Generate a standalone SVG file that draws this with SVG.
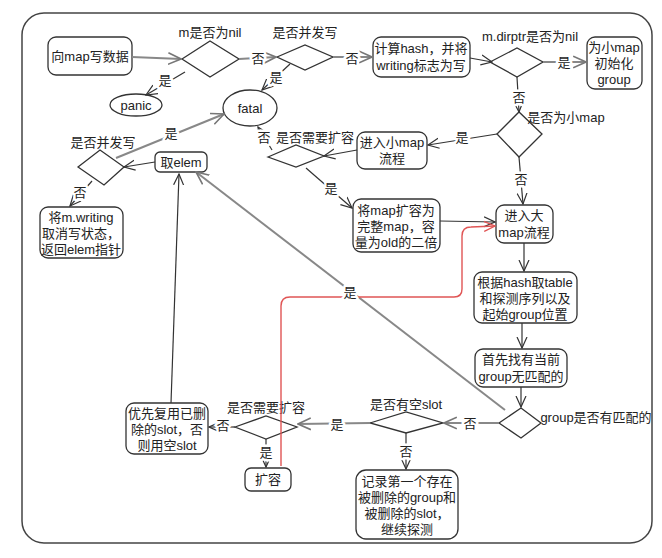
<svg xmlns="http://www.w3.org/2000/svg" width="662" height="558" viewBox="0 0 662 558">
<defs>
<style>
.n{fill:#fff;stroke:#333;stroke-width:1.3}
.t{font-family:"Liberation Sans","Noto Sans CJK SC",sans-serif;font-size:13px;fill:#222;text-anchor:middle}
.h{paint-order:stroke;stroke:#fff;stroke-width:5px;stroke-linejoin:round}
.l{fill:none;stroke:#333;stroke-width:1.2}
.g{fill:none;stroke:#888;stroke-width:2}
.r{fill:none;stroke:#e05555;stroke-width:1.4}
</style>
<marker id="a" viewBox="0 0 12 12" refX="11" refY="6" markerWidth="12" markerHeight="12" markerUnits="userSpaceOnUse" orient="auto">
<path d="M0,1 L11,6 L0,11" fill="none" stroke="#333" stroke-width="1.2"/>
</marker>
<marker id="ag" viewBox="0 0 12 12" refX="11" refY="6" markerWidth="14" markerHeight="14" markerUnits="userSpaceOnUse" orient="auto">
<path d="M0,1 L11,6 L0,11" fill="none" stroke="#777" stroke-width="1.4"/>
</marker>
<marker id="ar" viewBox="0 0 12 12" refX="11" refY="6" markerWidth="12" markerHeight="12" markerUnits="userSpaceOnUse" orient="auto">
<path d="M0,1 L11,6 L0,11" fill="none" stroke="#e05555" stroke-width="1.3"/>
</marker>
</defs>
<rect x="0" y="0" width="662" height="558" fill="#fff"/>
<rect x="22" y="13" width="630" height="530" rx="22" fill="none" stroke="#444" stroke-width="1.5"/>

<g id="n1"><rect class="n" x="48" y="37" width="84" height="38" rx="8"/><text class="t" x="90" y="61">向map写数据</text></g>
<g id="n2"><polygon class="n" points="182,59 210,41 239,59 210,77"/><text class="t" x="210" y="37">m是否为nil</text></g>
<g id="n3"><ellipse class="n" cx="136" cy="105" rx="26" ry="11"/><text class="t" x="136" y="110">panic</text></g>
<g id="n4"><ellipse class="n" cx="250" cy="108" rx="27" ry="18"/><text class="t" x="250" y="113">fatal</text></g>
<g id="n5"><polygon class="n" points="277,57 305,45 333,57 305,70"/><text class="t" x="305" y="37">是否并发写</text></g>
<g id="n6"><rect class="n" x="373" y="37" width="97" height="40" rx="8"/><text class="t" x="421" y="53">计算hash，并将</text><text class="t" x="421" y="70">writing标志为写</text></g>
<g id="n7"><polygon class="n" points="490,62 517,48 543,62 517,77"/><text class="t" x="530" y="41">m.dirptr是否为nil</text></g>
<g id="n8"><rect class="n" x="587" y="37" width="55" height="52" rx="8"/><text class="t" x="614" y="52">为小map</text><text class="t" x="614" y="68">初始化</text><text class="t" x="614" y="84">group</text></g>
<g id="n9"><polygon class="n" points="497,134 519,112 542,134 519,157"/><text class="t" x="566" y="122">是否为小map</text></g>
<g id="n10"><rect class="n" x="357" y="132" width="70" height="37" rx="8"/><text class="t" x="392" y="147">进入小map</text><text class="t" x="392" y="163">流程</text></g>
<g id="n11"><polygon class="n" points="268,157 296,145 324,156 296,167"/><text class="t" x="315" y="142">是否需要扩容</text></g>
<g id="n12"><rect class="n" x="353" y="199" width="87" height="53" rx="8"/><text class="t" x="396" y="215">将map扩容为</text><text class="t" x="396" y="231">完整map，容</text><text class="t" x="396" y="247">量为old的二倍</text></g>
<g id="n13"><rect class="n" x="496" y="205" width="57" height="38" rx="8"/><text class="t" x="524" y="220">进入大</text><text class="t" x="524" y="237">map流程</text></g>
<g id="n14"><rect class="n" x="474" y="272" width="103" height="51" rx="8"/><text class="t" x="525" y="287">根据hash取table</text><text class="t" x="525" y="303">和探测序列以及</text><text class="t" x="525" y="319">起始group位置</text></g>
<g id="n15"><rect class="n" x="475" y="349" width="92" height="38" rx="8"/><text class="t" x="521" y="364">首先找有当前</text><text class="t" x="521" y="381">group无匹配的</text></g>
<g id="n16"><polygon class="n" points="499,423 521,408 541,423 521,438"/><text class="t" x="596" y="422">group是否有匹配的</text></g>
<g id="n17"><polygon class="n" points="370,423 406,412 443,423 406,433"/><text class="t" x="406" y="409">是否有空slot</text></g>
<g id="n18"><rect class="n" x="356" y="470" width="102" height="69" rx="10"/><text class="t" x="407" y="486">记录第一个存在</text><text class="t" x="407" y="502">被删除的group和</text><text class="t" x="407" y="518">被删除的slot，</text><text class="t" x="407" y="534">继续探测</text></g>
<g id="n19"><polygon class="n" points="235,427 266,416 297,427 266,439"/><text class="t" x="266" y="412">是否需要扩容</text></g>
<g id="n20"><rect class="n" x="126" y="403" width="82" height="51" rx="8"/><text class="t" x="167" y="418">优先复用已删</text><text class="t" x="167" y="434">除的slot，否</text><text class="t" x="167" y="450">则用空slot</text></g>
<g id="n21"><rect class="n" x="245" y="468" width="46" height="23" rx="6"/><text class="t" x="268" y="484">扩容</text></g>
<g id="n22"><rect class="n" x="155" y="152" width="52" height="20" rx="5"/><text class="t" x="181" y="167">取elem</text></g>
<g id="n23"><polygon class="n" points="78,167 100,150 124,167 104,185"/><text class="t" x="103" y="147">是否并发写</text></g>
<g id="n24"><rect class="n" x="40" y="207" width="83" height="51" rx="8"/><text class="t" x="81" y="222">将m.writing</text><text class="t" x="81" y="238">取消写状态，</text><text class="t" x="81" y="254">返回elem指针</text></g>

<g id="connectors">
<line class="g" x1="132" y1="57" x2="181" y2="59" marker-end="url(#ag)"/>
<line class="l" x1="185" y1="72" x2="146" y2="95" marker-end="url(#a)"/>
<line class="g" x1="239" y1="59" x2="276" y2="57" marker-end="url(#ag)"/>
<line class="l" x1="290" y1="64" x2="262" y2="90" marker-end="url(#a)"/>
<line class="g" x1="333" y1="57" x2="372" y2="57" marker-end="url(#ag)"/>
<line class="l" x1="470" y1="58" x2="492" y2="62" marker-end="url(#a)"/>
<line class="g" x1="543" y1="62" x2="586" y2="62" marker-end="url(#ag)"/>
<line class="l" x1="517" y1="77" x2="519" y2="112" marker-end="url(#a)"/>
<line class="l" x1="497" y1="134" x2="428" y2="145" marker-end="url(#a)"/>
<line class="l" x1="519" y1="157" x2="523" y2="204" marker-end="url(#a)"/>
<line class="l" x1="357" y1="150" x2="324" y2="156" marker-end="url(#a)"/>
<line class="l" x1="272" y1="150" x2="258" y2="127" marker-end="url(#a)"/>
<line class="l" x1="306" y1="168" x2="352" y2="208" marker-end="url(#a)"/>
<line class="l" x1="440" y1="221" x2="495" y2="222" marker-end="url(#a)"/>
<line class="l" x1="524" y1="243" x2="524" y2="271" marker-end="url(#a)"/>
<line class="l" x1="522" y1="323" x2="522" y2="348" marker-end="url(#a)"/>
<line class="l" x1="521" y1="387" x2="521" y2="407" marker-end="url(#a)"/>
<line class="g" x1="505" y1="410" x2="196" y2="172" marker-end="url(#ag)"/>
<line class="g" x1="499" y1="423" x2="444" y2="423" marker-end="url(#ag)"/>
<line class="l" x1="406" y1="433" x2="406" y2="469" marker-end="url(#a)"/>
<line class="g" x1="370" y1="423" x2="298" y2="424" marker-end="url(#ag)"/>
<line class="l" x1="235" y1="427" x2="209" y2="427" marker-end="url(#a)"/>
<line class="l" x1="266" y1="439" x2="266" y2="467" marker-end="url(#a)"/>
<line class="l" x1="171" y1="403" x2="179" y2="174" marker-end="url(#a)"/>
<line class="l" x1="155" y1="162" x2="124" y2="167" marker-end="url(#a)"/>
<line class="g" x1="116" y1="158" x2="224" y2="114" marker-end="url(#ag)"/>
<line class="l" x1="92" y1="181" x2="70" y2="206" marker-end="url(#a)"/>
<path class="r" d="M281,466 L281,306 Q281,297 290,297 L454,297 Q462,297 462,289 L462,236 Q462,227 471,227 L495,226" marker-end="url(#ar)"/>
</g>

<g id="labels">
<text class="t h" x="258" y="63">否</text>
<text class="t h" x="165" y="85">是</text>
<text class="t h" x="276" y="82">是</text>
<text class="t h" x="352" y="63">否</text>
<text class="t h" x="564" y="67">是</text>
<text class="t h" x="519" y="102">否</text>
<text class="t h" x="462" y="142">是</text>
<text class="t h" x="521" y="184">否</text>
<text class="t h" x="264" y="142">否</text>
<text class="t h" x="331" y="193">是</text>
<text class="t h" x="350" y="297">是</text>
<text class="t h" x="470" y="428">否</text>
<text class="t h" x="406" y="456">否</text>
<text class="t h" x="337" y="429">是</text>
<text class="t h" x="223" y="430">否</text>
<text class="t h" x="266" y="457">是</text>
<text class="t h" x="171" y="138">是</text>
<text class="t h" x="80" y="197">否</text>
</g>
</svg>
